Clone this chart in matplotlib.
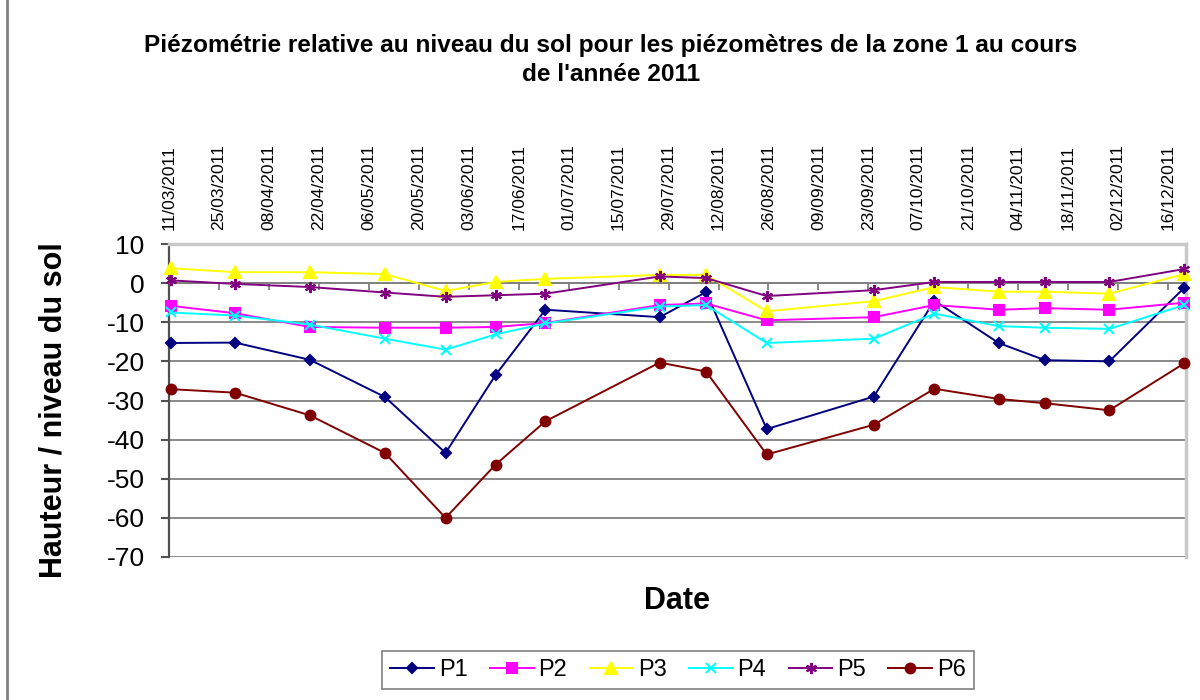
import matplotlib
matplotlib.use('Agg')
import matplotlib.pyplot as plt
import pandas as pd

dates = ['11/03/2011', '29/03/2011', '19/04/2011', '10/05/2011', '27/05/2011',
         '10/06/2011', '24/06/2011', '26/07/2011', '08/08/2011', '25/08/2011',
         '24/09/2011', '11/10/2011', '29/10/2011', '11/11/2011', '29/11/2011',
         '20/12/2011']

p1 = [-15.3, -15.2, -19.6, -29.1, -43.4, -23.5, -6.8, -8.7, -2.3, -37.3,
      -29.0, -4.5, -15.3, -19.7, -20.0, -1.2]
p2 = [-5.8, -7.7, -11.2, -11.4, -11.4, -11.2, -10.2, -5.6, -5.2, -9.5,
      -8.7, -5.6, -6.8, -6.4, -6.8, -5.0]
p3 = [3.8, 2.8, 2.8, 2.3, -2.0, 0.3, 1.1, 2.1, 2.1, -7.2,
      -4.6, -1.0, -2.2, -2.2, -2.7, 2.3]
p4 = [-7.5, -8.3, -10.6, -14.2, -17.0, -13.1, -10.3, -6.0, -5.6, -15.3,
      -14.2, -7.8, -11.0, -11.4, -11.7, -5.6]
p5 = [0.7, -0.2, -1.0, -2.4, -3.5, -3.1, -2.7, 1.7, 1.3, -3.3,
      -1.8, 0.3, 0.3, 0.3, 0.3, 3.6]
p6 = [-27.1, -28.0, -33.8, -43.4, -60.0, -46.4, -35.3, -20.3, -22.6, -43.8,
      -36.2, -27.0, -29.6, -30.7, -32.5, -20.5]

names = ['P1', 'P2', 'P3', 'P4', 'P5', 'P6']
colors = ['#000080', '#ff00ff', '#ffff00', '#00ffff', '#800080', '#800000']
markers = ['D', 's', '^', 'x', (6, 2, 0), 'o']
msizes = [5, 7, 8, 7, 8, 7]

plt.rcParams['font.family'] = ['Liberation Sans', 'DejaVu Sans']
plt.rcParams['axes.unicode_minus'] = False

# Excel date axis: points sit in the middle of their day slot
x = pd.to_datetime(dates, dayfirst=True) + pd.Timedelta(hours=12)
ticks = pd.date_range('2011-03-11', '2011-12-16', freq='14D')

fig = plt.figure(figsize=(12, 7), dpi=100)
ax = fig.add_axes([169 / 1200, 1 - 557 / 700, (1186 - 169) / 1200, (557 - 244) / 700])

for vals, name, c, m, ms in zip([p1, p2, p3, p4, p5, p6], names, colors, markers, msizes):
    ax.plot(x, vals, color=c, marker=m, markersize=ms, lw=1.4, mew=1.5,
            label=name, clip_on=False, zorder=3)

ax.set_xlim(pd.Timestamp('2011-03-11'), pd.Timestamp('2011-12-21'))
ax.set_ylim(-70, 10)
ax.set_yticks(range(-70, 11, 10))
ax.set_xticks(ticks)
ax.set_xticklabels([t.strftime('%d/%m/%Y') for t in ticks])

ax.yaxis.grid(True, color='#808080', lw=1.3)
ax.set_axisbelow(True)

ax.spines['bottom'].set_position(('data', 0))
ax.spines['bottom'].set_color('#808080')
ax.spines['bottom'].set_linewidth(1.3)
for s in ['top', 'right']:
    ax.spines[s].set_color('#c8c8c8')
    ax.spines[s].set_linewidth(2.5)
ax.spines['left'].set_color('#505050')
ax.spines['left'].set_linewidth(1.6)

ax.tick_params(axis='x', bottom=True, top=False, labelbottom=False, labeltop=True,
               direction='out', length=5, width=1.3, color='#808080',
               labelrotation=90, labelsize=12.5, pad=5)
ax.tick_params(axis='y', direction='out', length=5.5, width=1.5, color='#505050',
               labelsize=19, pad=12)

fig.text(0.509, 1 - 60 / 700,
         "Piézométrie relative au niveau du sol pour les piézomètres de la zone 1 au cours\nde l'année 2011",
         ha='center', va='center', fontsize=17.6, fontweight='bold', linespacing=1.3)
fig.text(54 / 1200, 1 - 410 / 700, 'Hauteur / niveau du sol', rotation=90,
         ha='center', va='center', fontsize=22, fontweight='bold')
fig.text(677 / 1200, 1 - 601 / 700, 'Date', ha='center', va='center',
         fontsize=22, fontweight='bold')

leg = ax.legend(loc='center', bbox_to_anchor=(678 / 1200, 1 - 670 / 700),
                bbox_transform=fig.transFigure, ncol=6, fancybox=False,
                edgecolor='#808080', fontsize=17, handlelength=1.85,
                handletextpad=0.2, columnspacing=0.95, borderpad=0.35,
                framealpha=1)
leg.get_frame().set_linewidth(1.2)

fig.add_artist(plt.Line2D([7 / 1200, 7 / 1200], [0, 1], color='#808080', lw=2,
                          transform=fig.transFigure))

fig.savefig('out.png', dpi=100)
